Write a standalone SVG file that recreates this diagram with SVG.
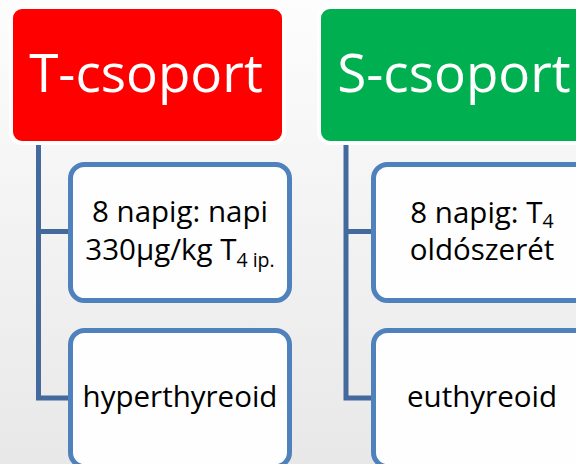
<svg xmlns="http://www.w3.org/2000/svg" width="576" height="464" viewBox="0 0 576 464">
<defs>
<linearGradient id="bg" x1="0" y1="0" x2="0" y2="1">
<stop offset="0" stop-color="#fdfdfd"/>
<stop offset="1" stop-color="#e8e8e8"/>
</linearGradient>
</defs>
<style>
.head{stroke:#ffffff;stroke-width:4}
.htxt{font-family:"Open Sans","Noto Sans",sans-serif;font-size:53px;fill:#ffffff;text-anchor:middle}
.child{fill:#fefefe;stroke:#4f81bd;stroke-width:5}
.ctxt{font-family:"Open Sans","Noto Sans",sans-serif;font-size:29.5px;fill:#000000;text-anchor:middle}
.sub{font-size:19.5px}
.conn{fill:none;stroke:#44699c;stroke-width:5}
</style>
<rect width="576" height="464" fill="url(#bg)"/>
<g id="connectors">
<path class="conn" d="M38.5,141 V398 H70"/>
<path class="conn" d="M38.5,231.5 H70"/>
<path class="conn" d="M346,141 V398 H373"/>
<path class="conn" d="M346,231.5 H373"/>
</g>
<g id="t-csoport">
<rect class="head" x="11" y="7" width="273" height="136" rx="11" fill="#ff0000"/>
<text class="htxt" x="146" y="92">T-csoport</text>
</g>
<g id="s-csoport">
<rect class="head" x="319" y="7" width="273" height="136" rx="11" fill="#00b050"/>
<text class="htxt" x="454" y="92">S-csoport</text>
</g>
<g id="t-kezeles">
<rect class="child" x="70.5" y="164.5" width="219" height="136" rx="14"/>
<text class="ctxt" x="180" y="222">8 napig: napi</text>
<text class="ctxt" x="180" y="260">330µg/kg T<tspan class="sub" dy="7">4 ip.</tspan></text>
</g>
<g id="t-eredmeny">
<rect class="child" x="70.5" y="330.5" width="219" height="136" rx="14"/>
<text class="ctxt" x="180" y="407">hyperthyreoid</text>
</g>
<g id="s-kezeles">
<rect class="child" x="373.5" y="164.5" width="219" height="136" rx="14"/>
<text class="ctxt" x="482" y="223">8 napig: T<tspan class="sub" dy="5">4</tspan></text>
<text class="ctxt" x="482" y="260">oldószerét</text>
</g>
<g id="s-eredmeny">
<rect class="child" x="373.5" y="330.5" width="219" height="136" rx="14"/>
<text class="ctxt" x="482" y="407">euthyreoid</text>
</g>
</svg>
